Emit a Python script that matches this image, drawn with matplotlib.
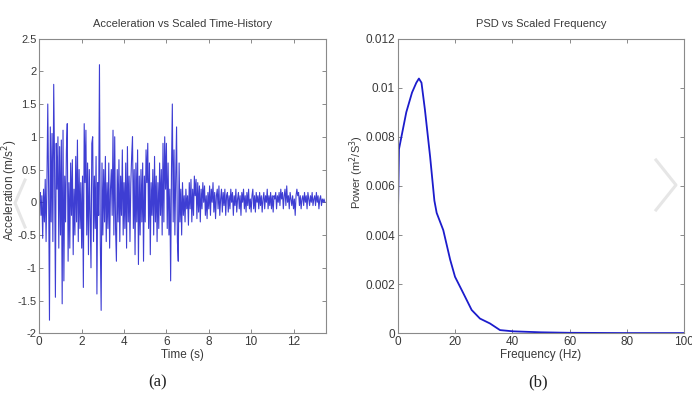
import numpy as np
import matplotlib
matplotlib.use("Agg")
import matplotlib.pyplot as plt
from matplotlib.lines import Line2D

# ---------------- data ----------------
dt = 0.04  # sample spacing (s)
accel = [
    # 0 s
    0.05, 0.15, -0.2, 0.1, -0.55, 0.2, -0.3, 0.35, -0.6, 0.3, 1.5, 0.2, -1.8,
    1.15, -0.3, 1.05, -0.6, 1.8, 0.6, -1.45, 0.9, 0.2, 1.0, -0.7, 0.85,
    # 1 s
    -0.5, 0.95, -1.55, 1.1, -1.2, 0.4, -0.3, 0.8, 1.2, -0.9, 0.3, -0.7, 0.6,
    -0.2, 0.65, -0.8, 0.2, -0.5, 0.7, -0.3, 0.95, -0.6, 0.5, -0.4, 0.3,
    # 2 s
    -0.7, 0.4, -1.3, 1.2, 0.3, 1.1, -0.5, 0.6, -0.8, 0.5, -0.2, -1.0, 0.9,
    1.0, -0.6, 0.4, -0.4, 0.7, -1.4, 0.3, -0.2, 2.1, -0.6, -1.65, 0.6,
    # 3 s
    -0.5, 0.5, -0.3, 0.7, -0.6, 0.3, -0.4, 0.6, -0.7, 0.2, 0.5, -0.2, 1.1,
    -0.5, 1.0, -0.4, -0.9, 0.5, -0.3, 0.65, -0.6, 0.4, -0.2, 0.8, -0.5,
    # 4 s
    0.3, -0.4, 0.6, -0.7, 0.85, -0.3, 0.4, -0.6, 0.3, 0.7, 1.0, -0.4, 0.5,
    -0.8, 0.6, -0.3, 0.8, -0.95, 0.4, -0.5, 0.5, -0.3, 0.6, -0.9, 0.4,
    # 5 s
    -0.3, 0.8, 0.3, 0.9, -0.4, 0.6, -0.8, 0.3, -0.2, 0.5, -0.5, 0.7, -0.3,
    0.4, -0.6, 0.3, -0.4, 0.6, -0.2, 0.5, -0.5, 0.9, -0.3, 1.0, 0.2,
    # 6 s
    0.9, -0.4, 0.6, -0.5, 0.2, -1.2, 0.5, 1.5, -0.3, 0.8, -0.5, 0.4, 1.15,
    -0.6, -0.9, 0.6, -0.3, 0.2, -0.5, 0.3, -0.2, 0.1, -0.3, 0.2, -0.1,
    # 7 s
    0.1, -0.35, 0.3, -0.1, 0.35, -0.3, 0.2, -0.2, 0.4, 0.1, 0.35, -0.25, 0.3,
    -0.15, 0.25, -0.3, 0.2, -0.1, 0.3, 0.0, 0.25, -0.2, 0.1, -0.25, 0.15,
    # 8 s
    -0.1, 0.25, -0.2, 0.2, 0.0, 0.3, -0.15, 0.15, -0.25, 0.1, 0.2, -0.1, 0.25,
    -0.2, 0.05, 0.2, -0.15, 0.15, -0.05, 0.2, -0.2, 0.1, 0.15, -0.15, 0.1,
    # 9 s
    -0.1, 0.2, 0.0, 0.15, -0.2, 0.1, -0.05, 0.2, -0.15, 0.05, 0.15, -0.1, 0.1,
    -0.2, 0.15, 0.0, 0.2, -0.1, 0.1, -0.15, 0.15, -0.05, 0.2, -0.1, 0.05,
    # 10 s
    -0.15, 0.1, 0.2, -0.1, 0.1, -0.15, 0.15, 0.0, 0.1, -0.1, 0.15, -0.05, 0.1,
    -0.15, 0.05, 0.15, -0.1, 0.1, 0.0, 0.2, -0.1, 0.1, -0.05, 0.15, -0.1,
    # 11 s
    0.1, -0.15, 0.1, 0.05, 0.15, -0.1, 0.1, 0.0, 0.15, -0.05, 0.2, 0.05, 0.15,
    -0.1, 0.1, 0.2, -0.05, 0.25, 0.0, 0.1, -0.1, 0.15, 0.05, -0.05, 0.1,
    # 12 s
    -0.1, 0.05, -0.2, 0.1, 0.2, 0.1, 0.15, -0.05, 0.1, -0.1, 0.05, 0.1, -0.05,
    0.15, 0.0, 0.1, -0.1, 0.15, 0.05, -0.05, 0.1, 0.0, 0.15, -0.05, 0.05,
    # 13 s
    0.1, -0.05, 0.15, 0.0, 0.1, -0.1, 0.05, 0.1, -0.05, 0.05, 0.0, 0.05, 0.0,
]
time = np.arange(len(accel)) * dt

psd_freq = [0.0, 0.45, 3.0, 5.0, 6.5, 7.4, 8.3, 9.5, 11.3, 12.8, 13.6, 15.9,
            18.3, 20.0, 22.9, 25.8, 28.7, 32.2, 35.7, 40.3, 50.0, 60.0, 80.0, 100.0]
psd_power = [0.0042, 0.0075, 0.0090, 0.0098, 0.0102, 0.01037, 0.0102, 0.0091,
             0.0072, 0.0054, 0.0049, 0.0042, 0.0030, 0.0023, 0.00163, 0.00095,
             0.0006, 0.0004, 0.00013, 0.00008, 0.00004, 0.00002, 0.00001, 0.00001]

acc_yticks = [-2, -1.5, -1, -0.5, 0, 0.5, 1, 1.5, 2, 2.5]
acc_ylabels = ['-2', '-1.5', '-1', '-0.5', '0', '0.5', '1', '1.5', '2', '2.5']
acc_xticks = [0, 2, 4, 6, 8, 10, 12]
psd_yticks = [0, 0.002, 0.004, 0.006, 0.008, 0.01, 0.012]
psd_ylabels = ['0', '0.002', '0.004', '0.006', '0.008', '0.01', '0.012']
psd_xticks = [0, 20, 40, 60, 80, 100]

# ---------------- plot ----------------
plt.rcParams['font.family'] = ['Liberation Sans', 'DejaVu Sans']
W, H = 692, 403
fig = plt.figure(figsize=(W / 100, H / 100), dpi=100)
fig.patch.set_facecolor('white')

txt = '#3a3a3a'
edge = '#8a8a8a'
line_c = '#1c1ccc'

# faint carousel chevrons (screenshot overlay)
chev = '#e6e6e6'
fig.add_artist(Line2D([25 / W, 15 / W, 25 / W], [1 - 180 / H, 1 - 203 / H, 1 - 227 / H],
                      color=chev, lw=2.2, transform=fig.transFigure, zorder=0))
fig.add_artist(Line2D([656 / W, 676 / W, 656 / W], [1 - 160 / H, 1 - 185 / H, 1 - 210 / H],
                      color=chev, lw=2.2, transform=fig.transFigure, zorder=5))

def style(ax):
    for s in ax.spines.values():
        s.set_color(edge)
        s.set_linewidth(0.8)
    ax.tick_params(direction='in', top=True, right=True, length=3,
                   width=0.7, color=edge, labelsize=8.5, labelcolor=txt, pad=2)

ax1 = fig.add_axes([39.3 / W, 1 - 333.3 / H, (325.7 - 39.3) / W, (333.3 - 38.5) / H])
ax1.plot(time, accel, color=line_c, lw=0.8, alpha=0.85)
ax1.set_xlim(0, 13.52)
ax1.set_ylim(-2, 2.5)
ax1.set_yticks(acc_yticks)
ax1.set_yticklabels(acc_ylabels)
ax1.set_xticks(acc_xticks)
style(ax1)
ax1.tick_params(axis='y', labelsize=8)
ax1.set_title('Acceleration vs Scaled Time-History', fontsize=8, color=txt, pad=8)
ax1.set_xlabel('Time (s)', fontsize=8.5, color=txt, labelpad=1)

ax2 = fig.add_axes([397.7 / W, 1 - 333.3 / H, (684.3 - 397.7) / W, (333.3 - 38.5) / H])
ax2.plot(psd_freq, psd_power, color=line_c, lw=1.3)
ax2.set_xlim(0, 100)
ax2.set_ylim(0, 0.012)
ax2.set_yticks(psd_yticks)
ax2.set_yticklabels(psd_ylabels)
ax2.set_xticks(psd_xticks)
style(ax2)
ax2.set_title('PSD vs Scaled Frequency', fontsize=8, color=txt, pad=8)
ax2.set_xlabel('Frequency (Hz)', fontsize=8.5, color=txt, labelpad=1)

# y-axis labels placed explicitly
fig.text(0.0, 1 - 190 / H, 'Acceleration (m/s$^2$)', rotation=90,
         ha='left', va='center', fontsize=8.5, color=txt)
fig.text(347 / W, 1 - 172 / H, 'Power (m$^2$/S$^3$)', rotation=90,
         ha='left', va='center', fontsize=8, color=txt)

fig.text(158 / W, 1 - 382 / H, '(a)', ha='center', va='center',
         fontsize=12, family='Liberation Serif', color='#222222')
fig.text(538 / W, 1 - 382 / H, '(b)', ha='center', va='center',
         fontsize=12, family='Liberation Serif', color='#222222')

fig.savefig('out.png', dpi=100, facecolor='white')
